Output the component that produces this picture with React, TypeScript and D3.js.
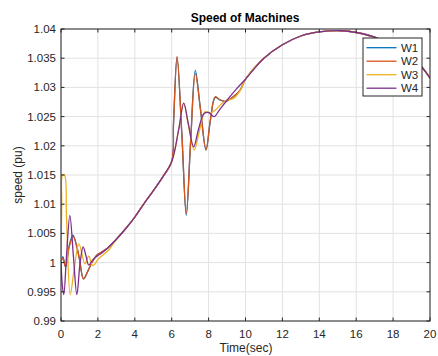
import React from "react";
import * as d3 from "d3";

const xTicks = [0, 2, 4, 6, 8, 10, 12, 14, 16, 18, 20];
const yTicks = [0.99, 0.995, 1, 1.005, 1.01, 1.015, 1.02, 1.025, 1.03, 1.035, 1.04];
const yTickLabels = ["0.99", "0.995", "1", "1.005", "1.01", "1.015", "1.02", "1.025", "1.03", "1.035", "1.04"];

// shared slow trend (after disturbances)
const baseT = [2.5, 3.0, 3.5, 4.0, 4.5, 5.0, 5.5, 6.0];
const baseV = [1.0024, 1.0040, 1.0058, 1.0078, 1.0101, 1.0123, 1.0146, 1.0173];
const tailT = [10.0, 11, 12, 13, 14, 15.2, 16, 17, 18, 19, 19.55, 20];
const tailV = [1.0314, 1.035, 1.0373, 1.0388, 1.0395, 1.0397, 1.0394, 1.0386, 1.0371, 1.035, 1.0335, 1.0316];

const w4T = [0, 0.07, 0.15, 0.3, 0.48, 0.67, 0.86, 1.03, 1.2, 1.35, 1.5, 1.75, 2.0, 2.2];
const w4V = [1.0, 0.9962, 0.9945, 1.0012, 1.0081, 1.0012, 0.9945, 0.9998, 1.0027, 1.0012, 0.9996, 1.0006, 1.0012, 1.0016];
const w4FaultT = [6.38, 6.65, 6.9, 7.19, 7.45, 7.75, 8.0, 8.3, 8.6, 9.0, 9.5];
const w4FaultV = [1.0228, 1.0273, 1.0238, 1.0198, 1.0228, 1.0255, 1.0257, 1.025, 1.0262, 1.0278, 1.0297];

const w2T = [0, 0.1, 0.25, 0.45, 0.66, 0.85, 1.0, 1.22, 1.45, 1.67, 1.95, 2.2];
const w2V = [1.0, 1.0008, 0.9993, 1.0028, 1.0045, 1.0028, 1.0006, 0.9972, 0.9985, 1.0, 1.0013, 1.0018];
const w2FaultT = [6.1, 6.29, 6.55, 6.79, 7.03, 7.28, 7.55, 7.86, 8.1, 8.36, 8.6, 8.9, 9.3, 9.7];
const w2FaultV = [1.024, 1.0353, 1.022, 1.0084, 1.021, 1.0324, 1.0265, 1.0193, 1.0245, 1.0284, 1.0279, 1.0276, 1.0283, 1.0295];

const w1T = [0, 0.1, 0.25, 0.45, 0.65, 0.85, 1.0, 1.22, 1.45, 1.67, 1.95, 2.2];
const w1V = [1.0, 1.001, 0.9992, 1.003, 1.0047, 1.0028, 1.0006, 0.9972, 0.9985, 1.0, 1.0013, 1.0018];
const w1FaultT = [6.1, 6.29, 6.55, 6.79, 7.03, 7.28, 7.55, 7.86, 8.1, 8.36, 8.6, 8.9, 9.3, 9.7];
const w1FaultV = [1.024, 1.0352, 1.022, 1.0081, 1.021, 1.0329, 1.0265, 1.0193, 1.0245, 1.0283, 1.0279, 1.0276, 1.0283, 1.0295];

const w3T = [0, 0.04, 0.08, 0.19, 0.3, 0.5, 0.7, 0.97, 1.3, 1.5, 1.72, 2.05, 2.6];
const w3V = [1.0, 1.01, 1.015, 1.015, 1.0075, 0.9945, 0.9985, 1.0032, 0.9998, 1.0011, 0.9995, 1.0007, 1.0022];
const w3FaultT = [6.38, 6.65, 6.9, 7.22, 7.5, 7.8, 8.1, 8.4, 8.7, 9.0, 9.35, 9.7];
const w3FaultV = [1.0228, 1.0273, 1.0236, 1.0193, 1.0225, 1.0258, 1.0256, 1.0262, 1.0272, 1.0278, 1.0281, 1.0294];

const seriesNames = ["W1", "W2", "W3", "W4"];
const seriesColors = ["#0072BD", "#D95319", "#EDB120", "#7E2F8E"];

function build(t1: number[], v1: number[], b1: number[], bv1: number[], t2: number[], v2: number[], t3: number[], v3: number[]) {
  const out: [number, number][] = [];
  const push = (ts: number[], vs: number[]) => ts.forEach((t, i) => out.push([t, vs[i]]));
  push(t1, v1);
  push(b1, bv1);
  push(t2, v2);
  push(t3, v3);
  return out.sort((a, b) => a[0] - b[0]).filter((d, i, arr) => i === 0 || d[0] > arr[i - 1][0]);
}

export default function App() {
  const W = 438, H = 356;
  const left = 61, right = 430, top = 29, bottom = 321;
  const x = d3.scaleLinear().domain([0, 20]).range([left, right]);
  const y = d3.scaleLinear().domain([0.99, 1.04]).range([bottom, top]);
  const line = d3.line<[number, number]>().x(d => x(d[0])).y(d => y(d[1])).curve(d3.curveCatmullRom.alpha(0.5));

  const data = [
    build(w1T, w1V, baseT, baseV, w1FaultT, w1FaultV, tailT, tailV),
    build(w2T, w2V, baseT, baseV, w2FaultT, w2FaultV, tailT, tailV),
    build(w3T, w3V, baseT.slice(1), baseV.slice(1), w3FaultT, w3FaultV, tailT, tailV),
    build(w4T, w4V, baseT, baseV, w4FaultT, w4FaultV, tailT, tailV),
  ];
  const font = "'Liberation Sans', Arial, Helvetica, sans-serif";
  const axisColor = "#262626";
  const tickLen = 3.5;

  return (
    <svg width={W} height={H} style={{ position: "absolute", left: 0, top: 0, background: "#fff" }} fontFamily={font}>
      <rect x={0} y={0} width={W} height={H} fill="#fff" />
      {xTicks.map(t => (
        <line key={"gx" + t} x1={x(t)} x2={x(t)} y1={top} y2={bottom} stroke="#e2e2e2" strokeWidth={1} />
      ))}
      {yTicks.map(t => (
        <line key={"gy" + t} x1={left} x2={right} y1={y(t)} y2={y(t)} stroke="#e2e2e2" strokeWidth={1} />
      ))}
      <defs>
        <clipPath id="clip">
          <rect x={left} y={top} width={right - left} height={bottom - top} />
        </clipPath>
      </defs>
      <g clipPath="url(#clip)">
        {data.map((d, i) => (
          <path key={i} d={line(d) || ""} fill="none" stroke={seriesColors[i]} strokeWidth={1.3} strokeLinejoin="round" />
        ))}
      </g>
      <rect x={left} y={top} width={right - left} height={bottom - top} fill="none" stroke={axisColor} strokeWidth={1} />
      {xTicks.map(t => (
        <g key={"tx" + t}>
          <line x1={x(t)} x2={x(t)} y1={bottom} y2={bottom - tickLen} stroke={axisColor} />
          <line x1={x(t)} x2={x(t)} y1={top} y2={top + tickLen} stroke={axisColor} />
          <text x={x(t)} y={338} textAnchor="middle" fontSize={11.5} fill={axisColor}>{t}</text>
        </g>
      ))}
      {yTicks.map((t, i) => (
        <g key={"ty" + t}>
          <line x1={left} x2={left + tickLen} y1={y(t)} y2={y(t)} stroke={axisColor} />
          <line x1={right} x2={right - tickLen} y1={y(t)} y2={y(t)} stroke={axisColor} />
          <text x={56} y={y(t) + 4} textAnchor="end" fontSize={11.5} fill={axisColor}>{yTickLabels[i]}</text>
        </g>
      ))}
      <text x={245} y={22} textAnchor="middle" fontSize={12} fontWeight="bold" fill="#000">Speed of Machines</text>
      <text x={246} y={352} textAnchor="middle" fontSize={12} fill={axisColor}>Time(sec)</text>
      <text transform={`translate(22,175) rotate(-90)`} textAnchor="middle" fontSize={12} fill={axisColor}>speed (pu)</text>
      <rect x={363} y={38} width={59} height={58} fill="#fff" stroke={axisColor} strokeWidth={1} />
      {seriesNames.map((n, i) => {
        const ly = 47.7 + i * 13.5;
        return (
          <g key={n}>
            <line x1={366.5} x2={396.5} y1={ly} y2={ly} stroke={seriesColors[i]} strokeWidth={1.3} />
            <text x={401} y={ly + 4} fontSize={11.5} fill={axisColor}>{n}</text>
          </g>
        );
      })}
    </svg>
  );
}
